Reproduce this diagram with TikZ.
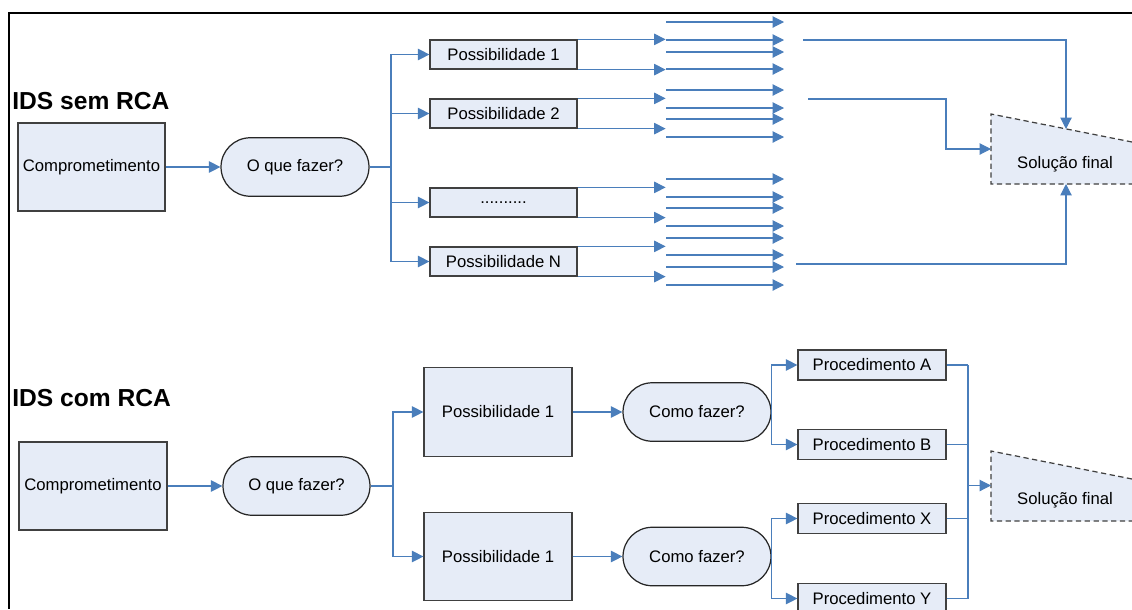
\documentclass[tikz,border=0pt]{standalone}
\usepackage{fontspec}
\setmainfont{Liberation Sans}
\usetikzlibrary{arrows.meta,shapes.misc}
\definecolor{azul}{RGB}{74,126,187}
\definecolor{fundo}{RGB}{230,236,247}
\newcommand{\pontilhado}{..........}
\tikzset{
  caixa/.style={draw=black!75, fill=fundo, inner sep=0pt, line width=0.7pt},
  pergunta/.style={rounded rectangle, draw=black!85, fill=fundo, inner sep=0pt,
    line width=0.7pt, minimum width=2.96cm, minimum height=1.17cm},
  seta/.style={->, draw=azul, line width=0.6pt},
  fio/.style={draw=azul, line width=0.6pt},
  tracejado/.style={draw=black!75, line width=0.7pt, dash pattern=on 3pt off 2pt},
  titulo/.style={font=\fontsize{14}{16}\selectfont\bfseries, anchor=west, inner sep=0pt},
}

\begin{document}
\begin{tikzpicture}[x=0.02cm, y=-0.02cm, >={Triangle[length=6.5pt,width=6.5pt]},
    font=\fontsize{9.5}{11}\selectfont]
  \useasboundingbox (0,0) rectangle (1132,609);
  \draw[line width=1.15pt] (1132,13) -- (9,13) -- (9,609);
  %
  % IDS sem RCA
  \node[titulo] (semRCA) at (12,101) {IDS sem RCA};
  \node[caixa, minimum width=2.94cm, minimum height=1.76cm] (compA) at (91.5,167) {Comprometimento};
  \node[pergunta] (fazerA) at (295,167) {O que fazer?};
  \draw[seta] (compA) -- (fazerA);
  \draw[fio] (fazerA.east) -- (391,167) coordinate (busA);
  \foreach \n/\t/\y in {1/Possibilidade 1/54.5, 2/Possibilidade 2/113.5,
      3/\pontilhado/202.5, 4/Possibilidade N/261.5} {
    \node[caixa, minimum width=2.94cm, minimum height=0.58cm] (possA\n) at (503.5,\y) {\t};
    \draw[seta] (busA) |- (possA\n);
    \draw[seta] (possA\n.north east) -- +(88,0);
    \draw[seta] (possA\n.south east) -- +(88,0);
  }
  \foreach \y in {22,40,52,69,90,108,119,137,179,197,208,226,238,255,267,285}
    \draw[seta] (666,\y) -- (784,\y);
  %
  \fill[fundo] (991,114) -- (1132,142) -- (1132,184) -- (991,184) -- cycle;
  \draw[tracejado] (1132,142) -- (991,114) -- (991,184) -- (1132,184);
  \node (solA) at (1065,164) {Solução final};
  \coordinate (solAtopo) at (1066,129);
  \coordinate (solAesq) at (991,149);
  \coordinate (solAbase) at (1066,184);
  \coordinate (fimA1) at (803,40);
  \coordinate (fimA2) at (808,99);
  \coordinate (fimA3) at (796,264);
  \draw[seta] (fimA1) -| (solAtopo);
  \draw[seta] (fimA2) -| (946,149) -- (solAesq);
  \draw[seta] (fimA3) -| (solAbase);
  %
  % IDS com RCA
  \node[titulo] (comRCA) at (12,398) {IDS com RCA};
  \node[caixa, minimum width=2.96cm, minimum height=1.76cm] (compB) at (93,486) {Comprometimento};
  \node[pergunta, minimum width=2.94cm] (fazerB) at (296.5,486) {O que fazer?};
  \draw[seta] (compB) -- (fazerB);
  \draw[fio] (fazerB.east) -- (393,486) coordinate (busB);
  \foreach \n/\y in {1/412, 2/556.5} {
    \node[caixa, minimum width=2.96cm, minimum height=1.77cm] (possB\n) at (498,\y) {Possibilidade 1};
    \node[pergunta] (como\n) at (697,\y) {Como fazer?};
    \draw[seta] (busB) |- (possB\n);
    \draw[seta] (possB\n) -- (como\n);
  }
  \coordinate (juncao) at (968,485.5);
  \foreach \p/\y/\c in {A/365/1, B/444.5/1, X/518.5/2, Y/598.5/2} {
    \node[caixa, minimum width=2.96cm, minimum height=0.6cm] (proc\p) at (872,\y) {Procedimento \p};
    \draw[seta] (como\c.east) |- (proc\p);
    \draw[fio] (proc\p) -- (juncao |- proc\p);
  }
  \draw[fio] (juncao |- procA) -- (juncao |- procY);
  %
  \fill[fundo] (991,451) -- (1132,479) -- (1132,521) -- (991,521) -- cycle;
  \draw[tracejado] (1132,479) -- (991,451) -- (991,521) -- (1132,521);
  \node (solB) at (1065,500) {Solução final};
  \coordinate (solBesq) at (991,485.5);
  \draw[seta] (juncao) -- (solBesq);
\end{tikzpicture}
\end{document}
